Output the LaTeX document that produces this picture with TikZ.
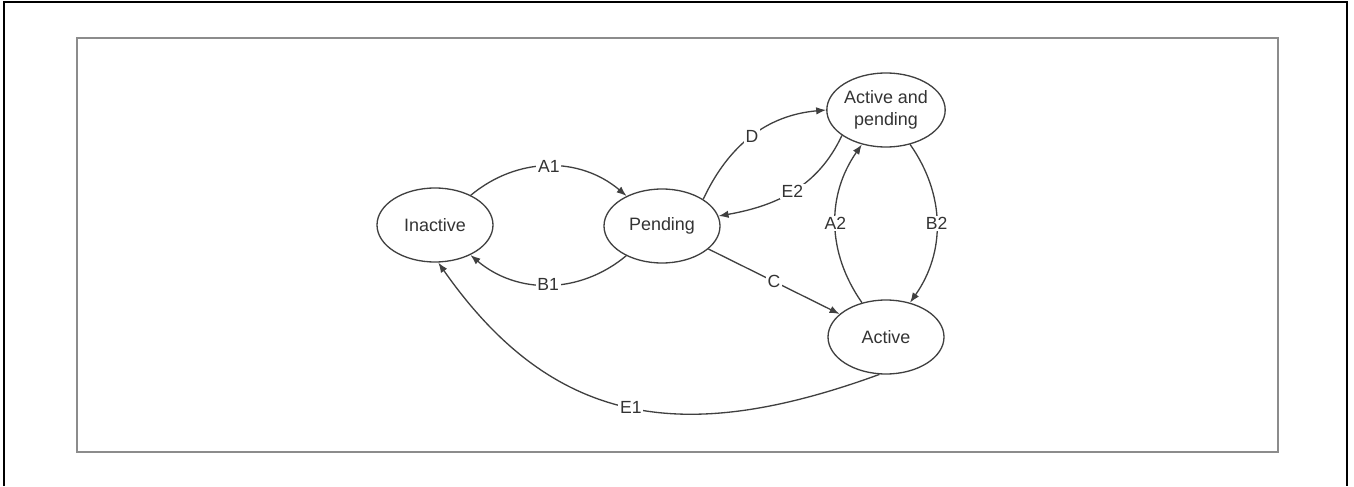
\documentclass[tikz,border=0pt]{standalone}
\usepackage{fontspec}
\setmainfont{Liberation Sans}
\usetikzlibrary{shapes.geometric,arrows.meta}

\begin{document}
\begin{tikzpicture}[
    st/.style={ellipse, draw=black!75, line width=0.75pt, minimum width=2.32cm,
      minimum height=1.48cm, inner sep=0pt, align=center, text=black!80,
      font=\fontsize{10.2}{12.5}\selectfont},
    tr/.style={draw=black!75, line width=0.75pt, -{Latex[length=2mm,width=1.5mm]}},
    lb/.style={fill=white, inner sep=1pt, text=black!80,
      font=\fontsize{10}{12}\selectfont}]
  \useasboundingbox (0,0) rectangle (27.08,9.72);
  % outer and inner frame
  \draw[line width=1.4pt] (0.08,0) -- (0.08,9.68) -- (26.94,9.68) -- (26.94,0);
  \draw[black!45, line width=1.1pt] (1.54,0.68) rectangle (25.56,8.96);

  % states
  \node[st] (inact) at (8.70,5.22) {Inactive};
  \node[st] (pend) at (13.24,5.20) {Pending};
  \node[st] (ap) at (17.72,7.52) {Active and\\pending};
  \node[st] (act) at (17.72,2.98) {Active};

  % transitions
  \draw[tr] (inact) to[bend left=40] node[lb] {A1} (pend);
  \draw[tr] (pend) to[bend left=40] node[lb] {B1} (inact);
  \draw[tr] (pend.33) to[out=65,in=185] node[lb] {D} (ap.west);
  \draw[tr] (ap.210) to[out=-115,in=10] node[lb] {E2} (pend.10);
  \draw[tr] (pend) -- node[lb] {C} (act);
  \draw[tr] (act) to[bend left=35] node[lb] {A2} (ap);
  \draw[tr] (ap) to[bend left=35] node[lb] {B2} (act);
  \draw[tr] (act.-100) to[out=200,in=-55,looseness=1.15] node[lb] {E1} (inact.-85);
\end{tikzpicture}
\end{document}
